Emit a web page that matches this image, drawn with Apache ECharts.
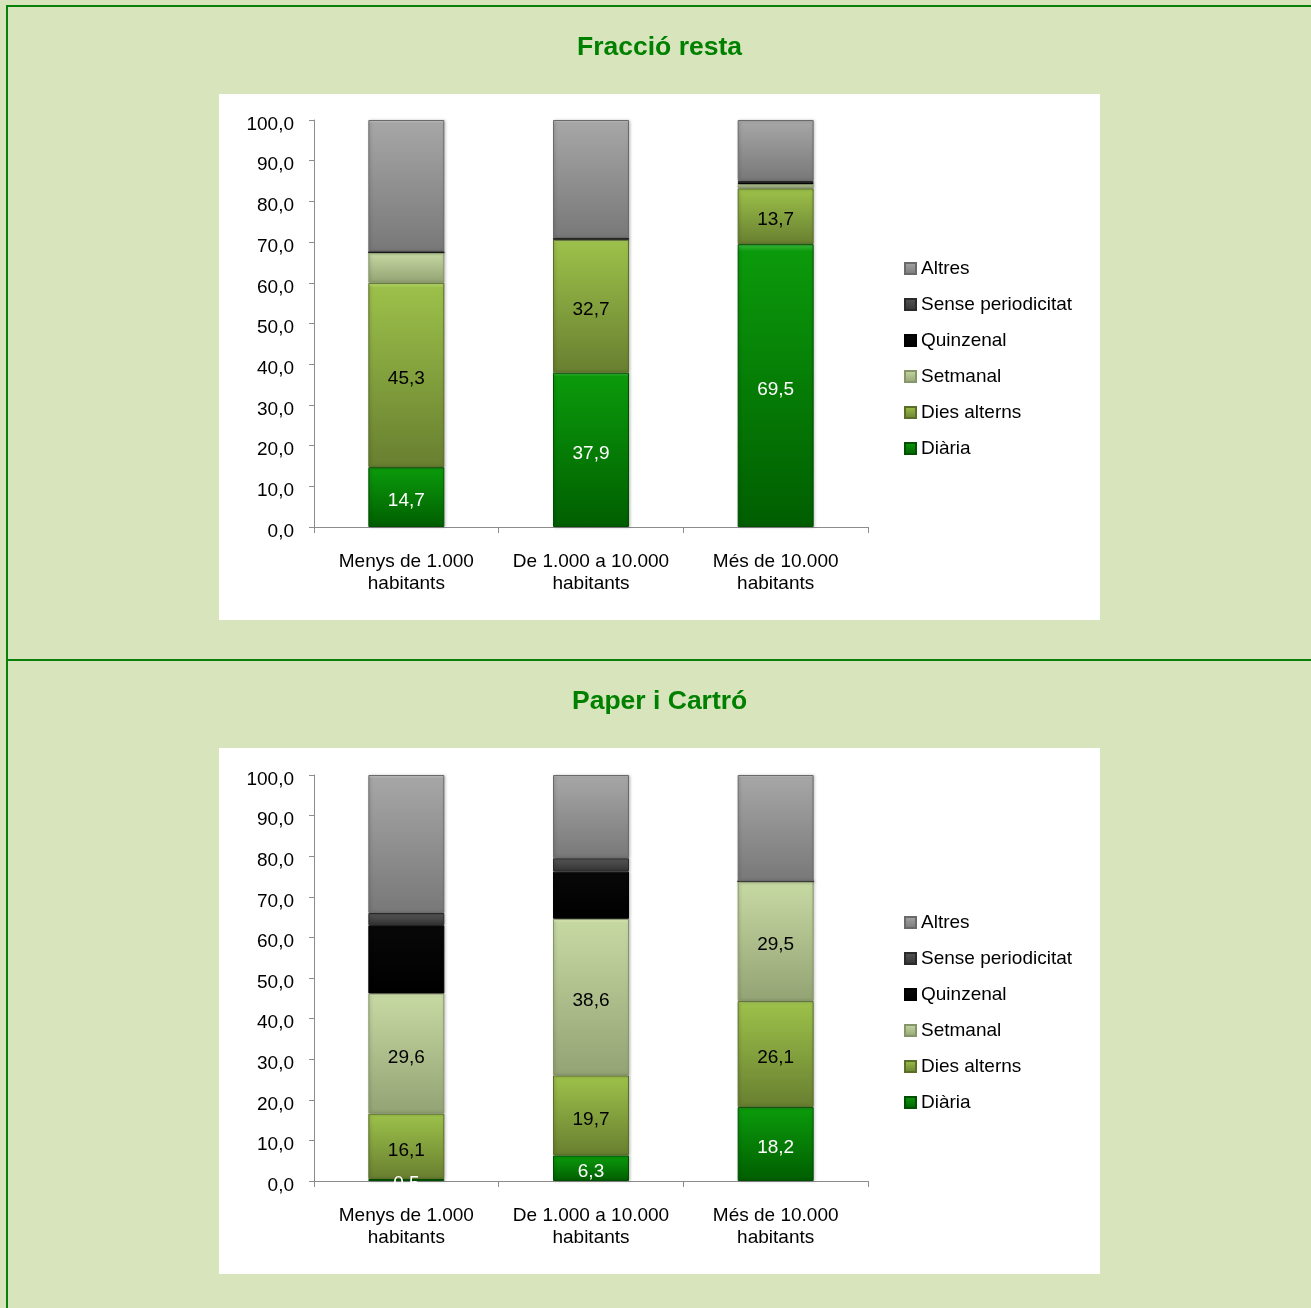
<!DOCTYPE html>
<html>
<head>
<meta charset="utf-8">
<title>Freqüència de recollida</title>
<script src="https://cdn.jsdelivr.net/npm/echarts@6/dist/echarts.min.js"></script>
<style>
  html, body { margin: 0; padding: 0; background: #d8e4bc; }
  #chart { width: 1311px; height: 1308px; }
</style>
</head>
<body>
<div id="chart"></div>
<script>
// Categories (municipality size) and tick values
const categories = ['Menys de 1.000\nhabitants', 'De 1.000 a 10.000\nhabitants', 'Més de 10.000\nhabitants'];
const seriesNames = ['Diària', 'Dies alterns', 'Setmanal', 'Quinzenal', 'Sense periodicitat', 'Altres'];
const legendOrder = ['Altres', 'Sense periodicitat', 'Quinzenal', 'Setmanal', 'Dies alterns', 'Diària'];
const yTicks = { min: 0, max: 100, interval: 10 };

// Fracció resta (%)
const restaDiaria = [14.7, 37.9, 69.5];
const restaDiesAlterns = [45.3, 32.7, 13.7];
const restaSetmanal = [7.5, 0.2, 1.1];
const restaQuinzenal = [0, 0, 0.4];
const restaSense = [0.2, 0.2, 0.3];
const restaAltres = [32.3, 29.0, 15.0];

// Paper i Cartró (%)
const paperDiaria = [0.5, 6.3, 18.2];
const paperDiesAlterns = [16.1, 19.7, 26.1];
const paperSetmanal = [29.6, 38.6, 29.5];
const paperQuinzenal = [16.8, 11.6, 0];
const paperSense = [3.0, 3.3, 0];
const paperAltres = [34.0, 20.5, 26.2];

const restaValues = [restaDiaria, restaDiesAlterns, restaSetmanal, restaQuinzenal, restaSense, restaAltres];
const paperValues = [paperDiaria, paperDiesAlterns, paperSetmanal, paperQuinzenal, paperSense, paperAltres];
// which series carry a value label in each chart
const restaLabelled = [true, true, false, false, false, false];
const paperLabelled = [true, true, true, false, false, false];

// fill styles: [highlight, top, bottom, border, label colour]
const fills = {
  'Diària':             ['#40c040', '#0b9a0b', '#005e00', '#005000', '#ffffff'],
  'Dies alterns':       ['#c8e880', '#9cc04a', '#687f30', '#5a6e2a', '#000000'],
  'Setmanal':           ['#f2ffc8', '#c6d8a2', '#93a374', '#87966a', '#000000'],
  'Quinzenal':          ['#303030', '#080808', '#000000', '#000000', '#ffffff'],
  'Sense periodicitat': ['#8a8a8a', '#555555', '#333333', '#2a2a2a', '#ffffff'],
  'Altres':             ['#d0d0d0', '#a6a6a6', '#787878', '#6a6a6a', '#000000']
};

const FONT = '"Liberation Sans", Arial, sans-serif';
const FS = 19;
const fmt = v => v.toFixed(1).replace('.', ',');

function gradient(name) {
  const f = fills[name];
  return new echarts.graphic.LinearGradient(0, 0, 0, 1, [
    { offset: 0, color: f[0] },
    { offset: 0.025, color: f[1] },
    { offset: 1, color: f[2] }
  ]);
}

function buildSeries(values, labelled, axisIndex, stack) {
  return seriesNames.map((name, i) => ({
    name: name,
    type: 'bar',
    stack: stack,
    xAxisIndex: axisIndex,
    yAxisIndex: axisIndex,
    barWidth: 76,
    data: values[i],
    itemStyle: {
      color: gradient(name),
      borderColor: fills[name][3],
      borderWidth: 1,
      shadowColor: 'rgba(0,0,0,0.25)',
      shadowBlur: 3,
      shadowOffsetX: 1
    },
    label: {
      show: labelled[i],
      position: 'inside',
      offset: [0, 4],
      color: fills[name][4],
      fontFamily: FONT,
      fontSize: FS,
      formatter: p => fmt(p.value)
    }
  }));
}

function xAxis(gridIndex) {
  return {
    type: 'category',
    gridIndex: gridIndex,
    data: categories,
    axisLine: { lineStyle: { color: '#8c8c8c', width: 1 } },
    axisTick: { show: true, interval: 0, length: 6, lineStyle: { color: '#8c8c8c' } },
    axisLabel: { interval: 0, color: '#000', fontFamily: FONT, fontSize: FS, lineHeight: 22, margin: 24 }
  };
}

function yAxis(gridIndex) {
  return {
    type: 'value',
    gridIndex: gridIndex,
    min: yTicks.min,
    max: yTicks.max,
    interval: yTicks.interval,
    axisLine: { show: true, lineStyle: { color: '#8c8c8c', width: 1 } },
    axisTick: { show: true, length: 5, lineStyle: { color: '#8c8c8c' } },
    splitLine: { show: false },
    axisLabel: {
      color: '#000', fontFamily: FONT, fontSize: FS, margin: 20,
      formatter: v => '{t|' + fmt(v) + '}',
      rich: { t: { fontFamily: FONT, fontSize: FS, color: '#000', padding: [9, 0, 0, 0] } }
    }
  };
}

function legend(top) {
  return {
    orient: 'vertical',
    left: 899,
    top: top,
    data: legendOrder,
    icon: 'rect',
    itemWidth: 11,
    itemHeight: 11,
    itemGap: 17,
    textStyle: { color: '#000', fontFamily: FONT, fontSize: FS, lineHeight: 19 },
    selectedMode: false
  };
}

const GREEN = '#0a800a';
const titleStyle = { color: '#008000', fontFamily: FONT, fontWeight: 'bold', fontSize: 26.5 };
const chart = echarts.init(document.getElementById('chart'), null, { renderer: 'canvas' });
chart.setOption({
  backgroundColor: '#d8e4bc',
  animation: false,
  title: [
    { text: 'Fracció resta', left: 572, top: 29, textStyle: titleStyle },
    { text: 'Paper i Cartró', left: 567, top: 683, textStyle: titleStyle }
  ],
  graphic: [
    { type: 'rect', z: -10, shape: { x: 219, y: 94, width: 881, height: 526 }, style: { fill: '#ffffff' }, silent: true },
    { type: 'rect', z: -10, shape: { x: 219, y: 748, width: 881, height: 526 }, style: { fill: '#ffffff' }, silent: true },
    { type: 'rect', z: -10, shape: { x: 6, y: 5, width: 1305, height: 2 }, style: { fill: GREEN }, silent: true },
    { type: 'rect', z: -10, shape: { x: 6, y: 5, width: 2, height: 1303 }, style: { fill: GREEN }, silent: true },
    { type: 'rect', z: -10, shape: { x: 6, y: 659, width: 1305, height: 2 }, style: { fill: GREEN }, silent: true }
  ],
  legend: [legend(254), legend(908)],
  grid: [
    { left: 314, top: 120, width: 554, height: 407 },
    { left: 314, top: 775, width: 554, height: 406 }
  ],
  xAxis: [xAxis(0), xAxis(1)],
  yAxis: [yAxis(0), yAxis(1)],
  series: buildSeries(restaValues, restaLabelled, 0, 'resta')
    .concat(buildSeries(paperValues, paperLabelled, 1, 'paper'))
});
</script>
</body>
</html>
